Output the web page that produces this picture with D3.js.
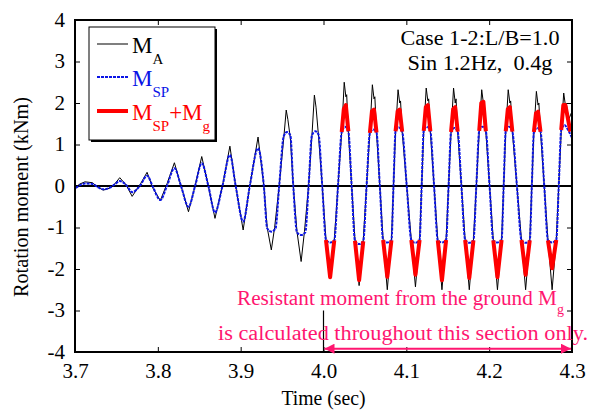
<!DOCTYPE html>
<html>
<head>
<meta charset="utf-8">
<script src="https://cdn.jsdelivr.net/npm/d3@7"></script>
<style>
  body { margin: 0; background: #fff; }
  svg { font-family: "Liberation Serif", "DejaVu Serif", serif; }
</style>
</head>
<body>
<div id="chart"></div>
<script>
// ---- data (time in sec, moment in kNm) ----
const xTicks = [3.7, 3.8, 3.9, 4.0, 4.1, 4.2, 4.3];
const yTicks = [-4, -3, -2, -1, 0, 1, 2, 3, 4];

// M_SP (blue dotted)
const tSP = [3.701, 3.706, 3.712, 3.721, 3.727, 3.734, 3.742, 3.748, 3.754, 3.762,
  3.769, 3.779, 3.787, 3.794, 3.803, 3.811, 3.820, 3.828, 3.837, 3.845,
  3.853, 3.861, 3.869, 3.878, 3.887, 3.894, 3.903, 3.911, 3.921, 3.928,
  3.932, 3.937, 3.942, 3.9465, 3.952, 3.956, 3.960, 3.9635,
  3.968, 3.973, 3.978, 3.982, 3.986, 3.990, 3.994, 3.9985,
  4.003, 4.008, 4.013, 4.0175, 4.022, 4.026, 4.030, 4.034,
  4.038, 4.043, 4.048, 4.052, 4.056, 4.060, 4.064, 4.068,
  4.072, 4.077, 4.082, 4.0845, 4.087, 4.091, 4.095, 4.1005,
  4.106, 4.111, 4.116, 4.1185, 4.121, 4.125, 4.129, 4.1335,
  4.138, 4.143, 4.148, 4.151, 4.154, 4.158, 4.162, 4.1665,
  4.171, 4.176, 4.181, 4.1845, 4.188, 4.192, 4.196, 4.2005,
  4.205, 4.210, 4.215, 4.2175, 4.220, 4.224, 4.228, 4.2335,
  4.239, 4.244, 4.249, 4.2515, 4.254, 4.258, 4.262, 4.2665,
  4.271, 4.276, 4.281, 4.284, 4.287, 4.291, 4.295, 4.300];
const mSP = [-0.05, 0.02, 0.06, 0.05, -0.02, -0.08, -0.04, 0.04, 0.12, 0.02,
  -0.15, 0.02, 0.25, -0.02, -0.34, 0, 0.43, 0, -0.50, 0,
  0.55, 0, -0.64, 0, 0.75, 0, -0.86, 0, 0.91, 0,
  -1.02, -1.10, -1.03, 0, 1.20, 1.30, 1.22, 0,
  -1.12, -1.18, -1.12, 0, 1.22, 1.32, 1.24, 0,
  -1.30, -1.36, -1.31, 0, 1.30, 1.43, 1.32, 0,
  -1.32, -1.40, -1.33, 0, 1.28, 1.36, 1.29, 0,
  -1.30, -1.36, -1.31, 0, 1.32, 1.41, 1.31, 0,
  -1.30, -1.37, -1.30, 0, 1.33, 1.43, 1.32, 0,
  -1.31, -1.36, -1.30, 0, 1.30, 1.40, 1.31, 0,
  -1.30, -1.37, -1.31, 0, 1.33, 1.43, 1.32, 0,
  -1.31, -1.36, -1.30, 0, 1.32, 1.43, 1.31, 0,
  -1.30, -1.37, -1.31, 0, 1.30, 1.40, 1.31, 0,
  -1.31, -1.36, -1.30, 0, 1.35, 1.47, 1.36, 1.16];

// M_A (black)
const tA = [3.701, 3.706, 3.712, 3.721, 3.727, 3.734, 3.742, 3.748, 3.754, 3.762,
  3.769, 3.779, 3.787, 3.794, 3.803, 3.811, 3.820, 3.828, 3.837, 3.845,
  3.853, 3.861, 3.869, 3.878, 3.887, 3.894, 3.903, 3.911, 3.921, 3.928,
  3.932, 3.937, 3.941, 3.9465, 3.952, 3.955, 3.957, 3.960, 3.9635,
  3.968, 3.973, 3.977, 3.982, 3.986, 3.989, 3.991, 3.994, 3.9985,
  4.003, 4.008, 4.013, 4.0175, 4.022, 4.025, 4.027, 4.028, 4.030, 4.034,
  4.038, 4.043, 4.048, 4.052, 4.056, 4.059, 4.061, 4.062, 4.064, 4.068,
  4.072, 4.077, 4.082, 4.0845, 4.087, 4.090, 4.092, 4.093, 4.095, 4.1005,
  4.106, 4.111, 4.116, 4.1185, 4.121, 4.124, 4.126, 4.127, 4.129, 4.1335,
  4.138, 4.143, 4.148, 4.151, 4.154, 4.157, 4.159, 4.160, 4.162, 4.1665,
  4.171, 4.176, 4.181, 4.1845, 4.188, 4.191, 4.193, 4.194, 4.196, 4.2005,
  4.205, 4.210, 4.215, 4.2175, 4.220, 4.223, 4.225, 4.226, 4.228, 4.2335,
  4.239, 4.244, 4.249, 4.2515, 4.254, 4.257, 4.259, 4.260, 4.262, 4.2665,
  4.271, 4.276, 4.281, 4.284, 4.287, 4.290, 4.292, 4.293, 4.296, 4.300];
const mA = [-0.03, 0.05, 0.10, 0.08, -0.02, -0.10, -0.05, 0.05, 0.20, 0.02,
  -0.25, 0.05, 0.33, -0.05, -0.35, 0.05, 0.56, 0, -0.62, 0,
  0.71, 0, -0.78, 0, 0.96, 0, -1.06, 0, 1.18, 0,
  -1.00, -1.54, -1.00, 0, 1.15, 1.83, 1.60, 1.15, 0,
  -1.10, -1.82, -1.10, 0, 1.20, 2.19, 1.90, 1.20, 0,
  -1.30, -2.18, -1.30, 0, 1.30, 2.50, 2.15, 2.20, 1.30, 0,
  -1.30, -2.40, -1.30, 0, 1.30, 2.44, 2.10, 2.15, 1.30, 0,
  -1.30, -2.50, -1.30, 0, 1.30, 2.32, 2.00, 2.05, 1.30, 0,
  -1.30, -2.43, -1.30, 0, 1.30, 2.36, 2.05, 2.10, 1.30, 0,
  -1.30, -2.50, -1.30, 0, 1.30, 2.36, 2.00, 2.10, 1.30, 0,
  -1.30, -2.50, -1.30, 0, 1.30, 2.32, 2.00, 2.05, 1.30, 0,
  -1.30, -2.50, -1.30, 0, 1.30, 2.32, 2.00, 2.05, 1.30, 0,
  -1.30, -2.50, -1.30, 0, 1.30, 2.28, 1.95, 2.00, 1.30, 0,
  -1.30, -2.50, -1.30, 0, 1.30, 2.24, 1.95, 2.00, 1.60, 1.80];

// M_SP + M_g (red), one segment per peak / trough
const redT = [
  [4.003, 4.008, 4.013], [4.022, 4.0245, 4.027, 4.030],
  [4.038, 4.043, 4.048], [4.056, 4.0585, 4.061, 4.064],
  [4.072, 4.077, 4.082], [4.087, 4.0895, 4.092, 4.095],
  [4.106, 4.111, 4.116], [4.121, 4.1235, 4.126, 4.129],
  [4.138, 4.143, 4.148], [4.154, 4.1565, 4.159, 4.162],
  [4.171, 4.176, 4.181], [4.188, 4.1905, 4.193, 4.196],
  [4.205, 4.210, 4.215], [4.220, 4.2225, 4.225, 4.228],
  [4.239, 4.244, 4.249], [4.254, 4.2565, 4.259, 4.262],
  [4.271, 4.276, 4.281], [4.287, 4.2895, 4.292, 4.298]];
const redV = [
  [-1.30, -2.20, -1.31], [1.30, 1.85, 1.95, 1.32],
  [-1.32, -2.27, -1.33], [1.28, 1.80, 1.84, 1.29],
  [-1.30, -2.19, -1.31], [1.32, 1.80, 1.84, 1.31],
  [-1.30, -2.14, -1.30], [1.33, 1.90, 1.95, 1.32],
  [-1.31, -2.27, -1.30], [1.30, 1.85, 1.90, 1.31],
  [-1.30, -2.22, -1.31], [1.33, 2.00, 2.03, 1.32],
  [-1.31, -2.20, -1.30], [1.32, 1.85, 1.90, 1.31],
  [-1.30, -2.14, -1.31], [1.30, 1.75, 1.79, 1.31],
  [-1.31, -1.98, -1.30], [1.35, 1.95, 1.95, 1.31]];

const pink = "#ff1670";
const blue = "#0a14e6";

// ---- layout ----
const W = 589, H = 412;
const margin = { top: 20, right: 17, bottom: 60, left: 75 };
const width = W - margin.left - margin.right,
  height = H - margin.top - margin.bottom;

const svg = d3.select("#chart").append("svg")
  .attr("width", W).attr("height", H);

const g = svg.append("g")
  .attr("transform", "translate(" + margin.left + "," + margin.top + ")");

const x = d3.scaleLinear().domain([3.7, 4.3]).range([0, width]);
const y = d3.scaleLinear().domain([-4, 4]).range([height, 0]);

g.append("clipPath").attr("id", "clip")
  .append("rect").attr("width", width).attr("height", height);

// axes with inward ticks
const fmtX = d => d.toFixed(1);
const fmtY = d => String(d);

const axB = g.append("g").attr("transform", "translate(0," + height + ")")
  .call(d3.axisBottom(x).tickValues(xTicks).tickFormat(fmtX).tickSize(-5).tickPadding(11));
const axT = g.append("g")
  .call(d3.axisTop(x).tickValues(xTicks).tickFormat("").tickSize(-5));
const axL = g.append("g")
  .call(d3.axisLeft(y).tickValues(yTicks).tickFormat(fmtY).tickSize(-5).tickPadding(10));
const axR = g.append("g").attr("transform", "translate(" + width + ",0)")
  .call(d3.axisRight(y).tickValues(yTicks).tickFormat("").tickSize(-5));

[axB, axT, axL, axR].forEach(a => {
  a.attr("font-family", null);
  a.select(".domain").remove();
  a.selectAll("line").attr("stroke", "#000").attr("stroke-width", 1);
  a.selectAll("text").attr("font-size", 21).attr("fill", "#000");
});
axL.selectAll("text").attr("dy", "0.3em");

// zero line
g.append("line")
  .attr("x1", 0).attr("x2", width)
  .attr("y1", y(0)).attr("y2", y(0))
  .attr("stroke", "#000").attr("stroke-width", 2);

// series
const plot = g.append("g").attr("clip-path", "url(#clip)");

const lineA = d3.line().x(d => x(d[0])).y(d => y(d[1]));
plot.append("path")
  .datum(tA.map((t, i) => [t, mA[i]]))
  .attr("d", lineA)
  .attr("fill", "none").attr("stroke", "#000").attr("stroke-width", 1);

const lineSP = d3.line().x(d => x(d[0])).y(d => y(d[1])).curve(d3.curveMonotoneX);
plot.append("path")
  .datum(tSP.map((t, i) => [t, mSP[i]]))
  .attr("d", lineSP)
  .attr("fill", "none").attr("stroke", blue).attr("stroke-width", 2)
  .attr("stroke-dasharray", "3,1");

plot.selectAll(".red")
  .data(redT.map((ts, i) => ts.map((t, j) => [t, redV[i][j]])))
  .enter().append("path")
  .attr("class", "red")
  .attr("d", lineA)
  .attr("fill", "none").attr("stroke", "#ff0000").attr("stroke-width", 4)
  .attr("stroke-linejoin", "round");

// frame
g.append("rect")
  .attr("width", width).attr("height", height)
  .attr("fill", "none").attr("stroke", "#000").attr("stroke-width", 2);

// axis titles
svg.append("text")
  .attr("x", margin.left + width / 2).attr("y", 405)
  .attr("text-anchor", "middle").attr("font-size", 20)
  .attr("textLength", 84).attr("lengthAdjust", "spacingAndGlyphs")
  .text("Time (sec)");

svg.append("text")
  .attr("transform", "translate(28,197) rotate(-90)")
  .attr("text-anchor", "middle").attr("font-size", 20)
  .attr("textLength", 200).attr("lengthAdjust", "spacingAndGlyphs")
  .text("Rotation moment (kNm)");

// case label
svg.append("text").attr("x", 480).attr("y", 45)
  .attr("text-anchor", "middle").attr("font-size", 20)
  .attr("textLength", 159).attr("lengthAdjust", "spacingAndGlyphs")
  .text("Case 1-2:L/B=1.0");
svg.append("text").attr("x", 480).attr("y", 70)
  .attr("text-anchor", "middle").attr("font-size", 20)
  .attr("textLength", 145).attr("lengthAdjust", "spacingAndGlyphs")
  .attr("xml:space", "preserve")
  .text("Sin 1.2Hz,  0.4g");

// legend
const lg = svg.append("g");
lg.append("rect").attr("x", 91).attr("y", 29).attr("width", 126).attr("height", 113).attr("fill", "#000");
lg.append("rect").attr("x", 89).attr("y", 27).attr("width", 126).attr("height", 113)
  .attr("fill", "#fff").attr("stroke", "#000").attr("stroke-width", 1);

const legendItems = [
  { yl: 44, color: "#555", width: 1.5, dash: null, textColor: "#000", parts: [["M", 0], ["A", 1]] },
  { yl: 77, color: blue, width: 2, dash: "3,1", textColor: blue, parts: [["M", 0], ["SP", 1]] },
  { yl: 111, color: "#ff0000", width: 4, dash: null, textColor: "#ff0000", parts: [["M", 0], ["SP", 1], ["+M", 0], ["g", 1]] }
];
legendItems.forEach(it => {
  lg.append("line").attr("x1", 97).attr("x2", 128).attr("y1", it.yl).attr("y2", it.yl)
    .attr("stroke", it.color).attr("stroke-width", it.width)
    .attr("stroke-dasharray", it.dash);
  const t = lg.append("text").attr("x", 132).attr("y", it.yl + 9).attr("fill", it.textColor);
  let sub = 0;
  it.parts.forEach(p => {
    const dy = p[1] - sub;
    t.append("tspan")
      .attr("dy", dy * 11)
      .attr("font-size", p[1] ? 15 : 23)
      .text(p[0]);
    sub = p[1];
  });
});

// annotation
const ann1 = svg.append("text").attr("x", 237).attr("y", 305)
  .attr("fill", pink).attr("font-size", 20);
ann1.append("tspan").attr("textLength", 320).attr("lengthAdjust", "spacingAndGlyphs")
  .text("Resistant moment from the ground M");
ann1.append("tspan").attr("dy", 9).attr("font-size", 14).text("g");

svg.append("text").attr("x", 218).attr("y", 340)
  .attr("fill", pink).attr("font-size", 20)
  .attr("textLength", 370).attr("lengthAdjust", "spacingAndGlyphs")
  .text("is calculated throughout this section only.");

g.append("line")
  .attr("x1", x(4.0)).attr("x2", x(4.0))
  .attr("y1", y(-3.0)).attr("y2", y(-4))
  .attr("stroke", "#000").attr("stroke-width", 1.2);

const defs = svg.append("defs");
["s", "e"].forEach(k => {
  defs.append("marker").attr("id", "arr" + k)
    .attr("viewBox", "0 0 10 10").attr("refX", k === "e" ? 10 : 0).attr("refY", 5)
    .attr("markerWidth", 8).attr("markerHeight", 5).attr("orient", "auto")
    .attr("markerUnits", "strokeWidth")
    .append("path")
    .attr("d", k === "e" ? "M0,0L10,5L0,10z" : "M10,0L0,5L10,10z")
    .attr("fill", pink);
});
g.append("line")
  .attr("x1", x(4.0) + 1).attr("x2", x(4.3) - 1)
  .attr("y1", y(-3.92)).attr("y2", y(-3.92))
  .attr("stroke", pink).attr("stroke-width", 2)
  .attr("marker-start", "url(#arrs)").attr("marker-end", "url(#arre)");
</script>
</body>
</html>
